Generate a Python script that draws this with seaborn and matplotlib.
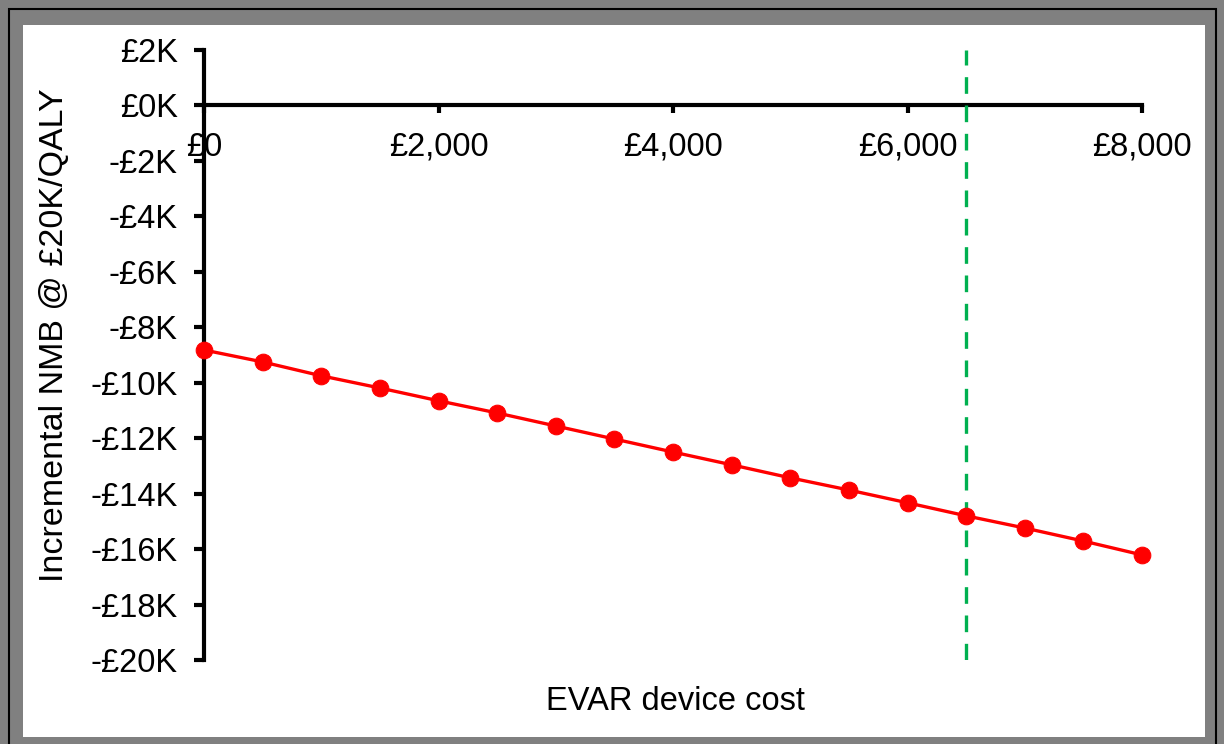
import matplotlib
matplotlib.use("Agg")
import matplotlib.pyplot as plt
import matplotlib.ticker as mticker
from matplotlib.patches import Rectangle
import pandas as pd
import seaborn as sns

# ---------------------------------------------------------------------------
# Data
# ---------------------------------------------------------------------------
device_cost = [0, 500, 1000, 1500, 2000, 2500, 3000, 3500, 4000,
               4500, 5000, 5500, 6000, 6500, 7000, 7500, 8000]
inc_nmb = [-8820, -9250, -9750, -10190, -10650, -11090, -11560, -12030, -12500,
           -12960, -13430, -13870, -14330, -14800, -15240, -15710, -16210]
current_cost = 6500
x_ticks = [0, 2000, 4000, 6000, 8000]
y_ticks = list(range(-20000, 2001, 2000))

df = pd.DataFrame({"cost": device_cost, "nmb": inc_nmb})

sns.set_style("white")
plt.rcParams["font.family"] = ["Liberation Sans", "DejaVu Sans"]
plt.rcParams.update({"text.color": "black", "xtick.color": "black",
                     "ytick.color": "black", "axes.labelcolor": "black",
                     "axes.edgecolor": "black"})

W, H = 1224, 744
FS = 23.5
fig = plt.figure(figsize=(W / 100, H / 100), dpi=100)
fig.patch.set_facecolor("#808080")

# outer frame: thin black line, grey margin, white panel
fig.patches.append(Rectangle((9 / W, -0.01), 1207 / W, 1 - 9 / H + 0.01,
                             transform=fig.transFigure, fill=False,
                             edgecolor="black", linewidth=1.5, zorder=-2))
fig.patches.append(Rectangle((23 / W, 7 / H), 1182 / W, (737 - 25) / H,
                             transform=fig.transFigure, facecolor="white",
                             edgecolor="none", zorder=-1))

ax = fig.add_axes([204 / W, 1 - 660 / H, (1142 - 204) / W, 610 / H])
ax.set_facecolor("none")

sns.lineplot(data=df, x="cost", y="nmb", ax=ax, color="#FF0000",
             linewidth=2.4, marker="o", markersize=12,
             markeredgecolor="#FF0000", zorder=3, clip_on=False)

ax.axvline(current_cost, ymin=0, ymax=1, color="#00B050", linewidth=2.4,
           linestyle=(0, (5, 3.5)), zorder=2)

ax.set_xlim(0, 8000)
ax.set_ylim(-20000, 2000)

for s in ["top", "right"]:
    ax.spines[s].set_visible(False)
ax.spines["bottom"].set_position(("data", 0))
ax.spines["bottom"].set_linewidth(3)
ax.spines["left"].set_linewidth(3)
ax.spines["bottom"].set_zorder(1)

ax.set_xticks(x_ticks)
ax.set_yticks(y_ticks)
ax.xaxis.set_major_formatter(mticker.FuncFormatter(lambda v, p: f"£{v:,.0f}"))
ax.yaxis.set_major_formatter(mticker.FuncFormatter(
    lambda v, p: f"£{v / 1000:.0f}K" if v >= 0 else f"-£{abs(v) / 1000:.0f}K"))
ax.tick_params(axis="x", direction="out", length=6, width=3, labelsize=FS,
               pad=13, bottom=True)
ax.tick_params(axis="y", direction="out", length=7, width=3, labelsize=FS,
               pad=12, left=True)

ax.set_xlabel("")
ax.set_ylabel("")
fig.text(675 / W, 1 - 702 / H, "EVAR device cost", ha="center", va="center",
         fontsize=FS)
fig.text(55 / W, 1 - 335 / H, "Incremental NMB @ £20K/QALY", ha="center",
         va="center", rotation=90, fontsize=24.5)

fig.savefig("out.png", dpi=100, facecolor=fig.get_facecolor())
